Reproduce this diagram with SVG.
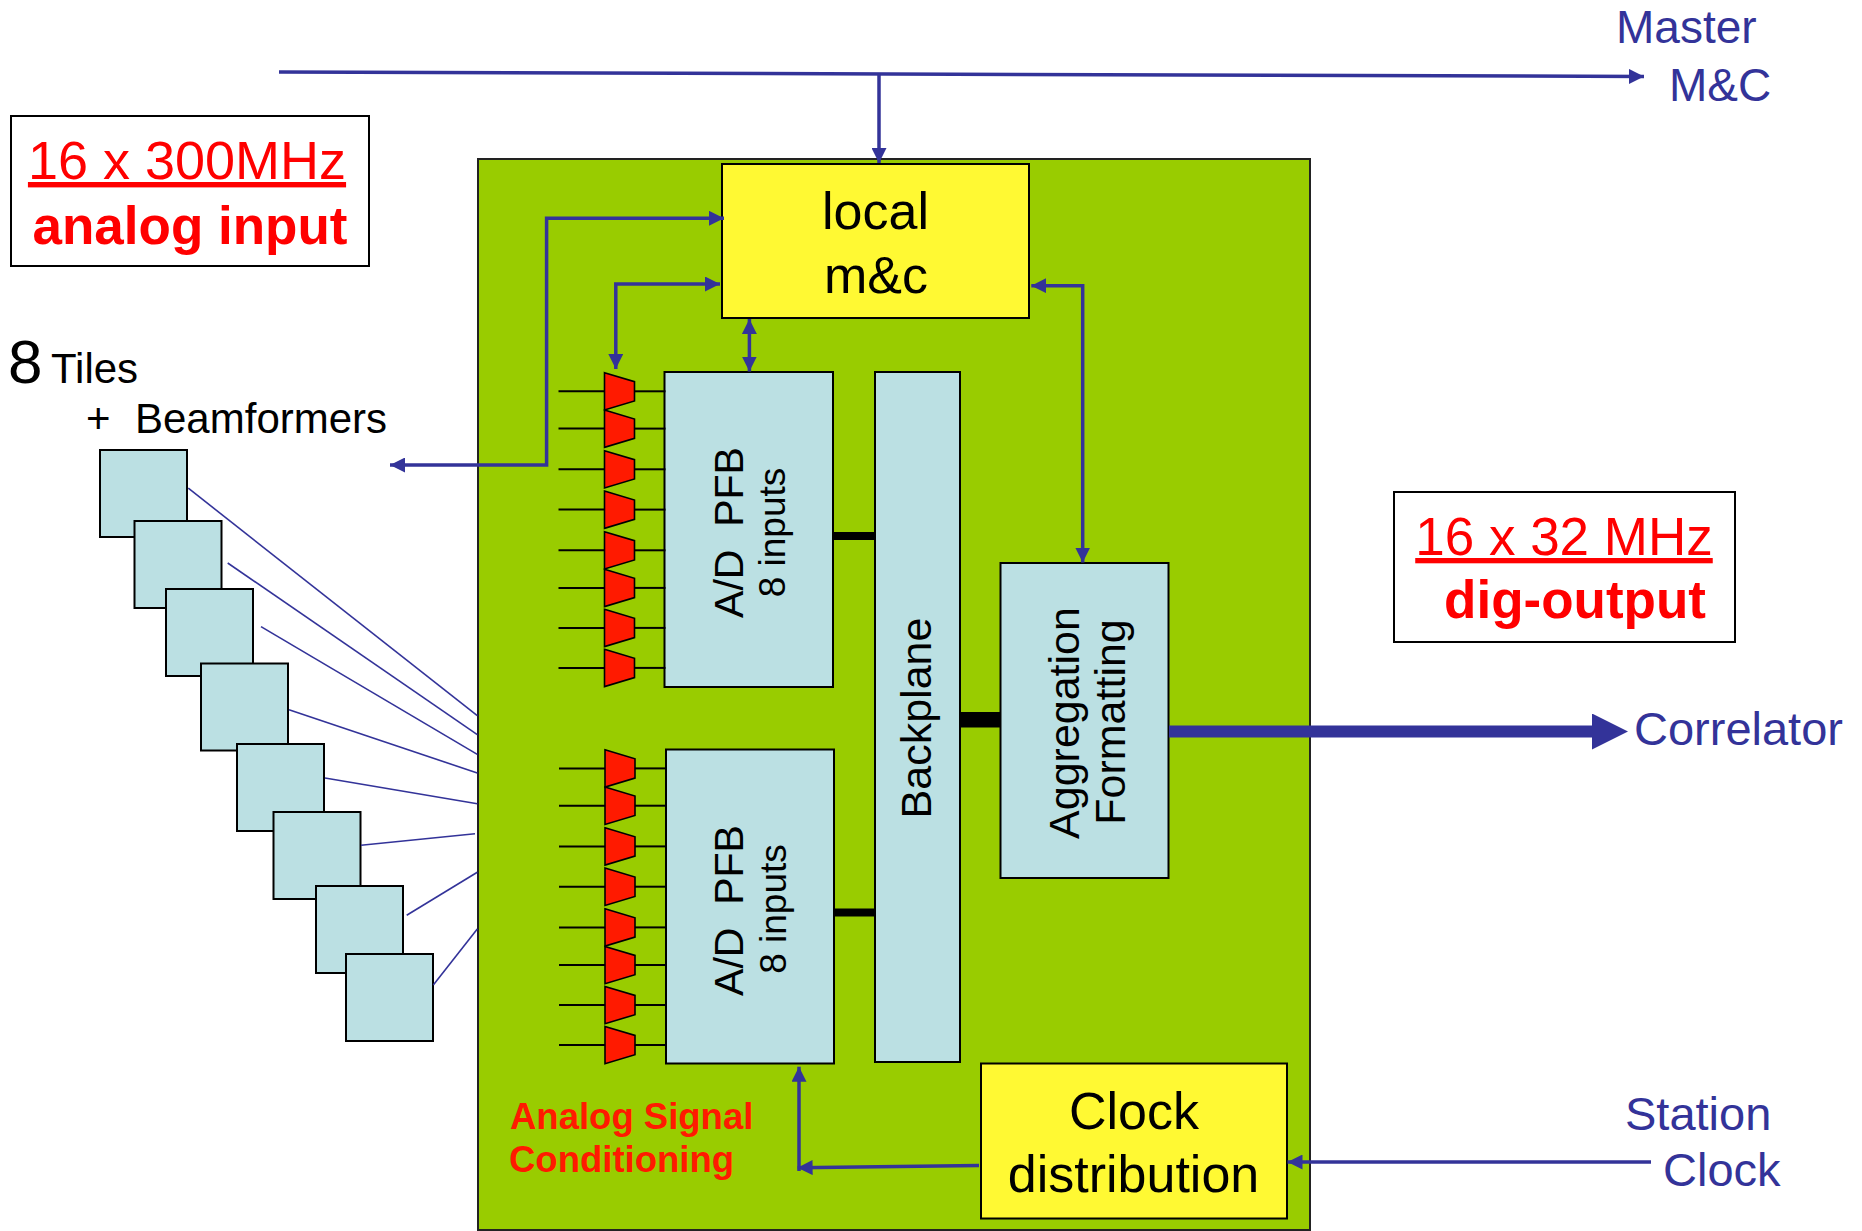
<svg xmlns="http://www.w3.org/2000/svg" xmlns:xlink="http://www.w3.org/1999/xlink" width="1862" height="1231" viewBox="0 0 1862 1231">
<style>
  text { font-family: "Liberation Sans", Arial, sans-serif; }
  .blk { fill: #000000; }
  .blue { fill: #333399; }
  .red { fill: #FF0000; }
  .conn { stroke: #333399; stroke-width: 3.5; fill: none; }
  .tline { stroke: #333399; stroke-width: 1.6; fill: none; }
  .lb { fill: #BBE0E3; stroke: #000000; stroke-width: 2; }
  .yel { fill: #FFF933; stroke: #000000; stroke-width: 2; }
  .frame { fill: #FFFFFF; stroke: #000000; stroke-width: 2; }
  .bus { fill: #000000; }
  .amp { fill: #FF1A00; stroke: #000000; stroke-width: 1.6; stroke-linejoin: miter; }
  .wire { stroke: #000000; stroke-width: 2; }
</style>
<defs>
  <marker id="ah" markerUnits="userSpaceOnUse" viewBox="0 0 15 15" refX="15" refY="7.5" markerWidth="15" markerHeight="15" orient="auto-start-reverse">
    <path d="M0,0 L15,7.5 L0,15 Z" fill="#333399"/>
  </marker>
  <marker id="bigah" markerUnits="userSpaceOnUse" viewBox="0 0 36 36" refX="2" refY="18" markerWidth="36" markerHeight="36" orient="auto">
    <path d="M0,0 L36,18 L0,36 Z" fill="#333399"/>
  </marker>
  <g id="ampUnit">
    <line class="wire" x1="-46" y1="18.6" x2="0" y2="18.6"/>
    <line class="wire" x1="30" y1="18.6" x2="61" y2="18.6"/>
    <path class="amp" d="M0,0 L30,9 L30,28.3 L0,37.3 Z"/>
  </g>
</defs>

<rect width="1862" height="1231" fill="#FFFFFF"/>

<!-- board -->
<g id="board">
  <rect x="478" y="159" width="832" height="1071" fill="#99CC00" stroke="#222222" stroke-width="2"/>
</g>

<!-- label boxes -->
<g id="analog-input-label">
  <rect class="frame" x="11" y="116" width="358" height="150"/>
  <text class="red" x="187" y="179" font-size="54" text-anchor="middle" text-decoration="underline">16 x 300MHz</text>
  <text class="red" x="190" y="244" font-size="53" font-weight="bold" text-anchor="middle">analog input</text>
</g>
<g id="dig-output-label">
  <rect class="frame" x="1394" y="492" width="341" height="150"/>
  <text class="red" x="1564" y="555" font-size="53" text-anchor="middle" text-decoration="underline">16 x 32 MHz</text>
  <text class="red" x="1575" y="618" font-size="53" font-weight="bold" text-anchor="middle">dig-output</text>
</g>
<g id="tiles-label">
  <text class="blk" x="8" y="383" font-size="62">8</text>
  <text class="blk" x="51" y="383" font-size="42">Tiles</text>
  <text class="blk" x="86" y="433" font-size="42">+</text>
  <text class="blk" x="135" y="433" font-size="42">Beamformers</text>
</g>
<g id="master-label">
  <text class="blue" x="1616" y="43" font-size="46">Master</text>
  <text class="blue" x="1669" y="101" font-size="46">M&amp;C</text>
</g>
<g id="correlator-label">
  <text class="blue" x="1634" y="745" font-size="47">Correlator</text>
</g>
<g id="station-clock-label">
  <text class="blue" x="1625" y="1130" font-size="47">Station</text>
  <text class="blue" x="1663" y="1186" font-size="47">Clock</text>
</g>
<g id="asc-label">
  <text x="510" y="1129" font-size="36.5" font-weight="bold" fill="#FF1A00">Analog Signal</text>
  <text x="509" y="1172" font-size="36.5" font-weight="bold" fill="#FF1A00">Conditioning</text>
</g>

<!-- tiles -->
<g id="tiles">
  <rect class="lb" x="100" y="450" width="87" height="87"/>
  <rect class="lb" x="134.5" y="521" width="87" height="87"/>
  <rect class="lb" x="166" y="589" width="87" height="87"/>
  <rect class="lb" x="201" y="663.5" width="87" height="87"/>
  <rect class="lb" x="237" y="744" width="87" height="87"/>
  <rect class="lb" x="273.5" y="812" width="87" height="87"/>
  <rect class="lb" x="316" y="886" width="87" height="87"/>
  <rect class="lb" x="346" y="954" width="87" height="87"/>
</g>

<!-- nodes -->
<g id="local-mc">
  <rect class="yel" x="722" y="164" width="307" height="154"/>
  <text class="blk" x="875.5" y="229" font-size="52" text-anchor="middle">local</text>
  <text class="blk" x="876" y="293" font-size="52" text-anchor="middle">m&amp;c</text>
</g>
<g id="adc1">
  <rect class="lb" x="664.5" y="372" width="168.5" height="315"/>
  <text class="blk" transform="translate(743,532.5) rotate(-90)" font-size="41" text-anchor="middle">A/D&#160; PFB</text>
  <text class="blk" transform="translate(785,532.5) rotate(-90)" font-size="37" text-anchor="middle">8 inputs</text>
</g>
<g id="adc2">
  <rect class="lb" x="666" y="749.5" width="168" height="314"/>
  <text class="blk" transform="translate(743,910.5) rotate(-90)" font-size="41" text-anchor="middle">A/D&#160; PFB</text>
  <text class="blk" transform="translate(786,909) rotate(-90)" font-size="37" text-anchor="middle">8 inputs</text>
</g>
<g id="amps1">
  <use xlink:href="#ampUnit" transform="translate(604.5,372.7)"/>
  <use xlink:href="#ampUnit" transform="translate(604.5,410)"/>
  <use xlink:href="#ampUnit" transform="translate(604.5,450.7)"/>
  <use xlink:href="#ampUnit" transform="translate(604.5,491)"/>
  <use xlink:href="#ampUnit" transform="translate(604.5,531.7)"/>
  <use xlink:href="#ampUnit" transform="translate(604.5,569.3)"/>
  <use xlink:href="#ampUnit" transform="translate(604.5,609.3)"/>
  <use xlink:href="#ampUnit" transform="translate(604.5,649.3)"/>
</g>
<g id="amps2">
  <use xlink:href="#ampUnit" transform="translate(605,749.8)"/>
  <use xlink:href="#ampUnit" transform="translate(605,787.1)"/>
  <use xlink:href="#ampUnit" transform="translate(605,827.8)"/>
  <use xlink:href="#ampUnit" transform="translate(605,868.1)"/>
  <use xlink:href="#ampUnit" transform="translate(605,908.8)"/>
  <use xlink:href="#ampUnit" transform="translate(605,946.4)"/>
  <use xlink:href="#ampUnit" transform="translate(605,986.4)"/>
  <use xlink:href="#ampUnit" transform="translate(605,1026.4)"/>
</g>
<g id="backplane">
  <rect class="lb" x="875" y="372" width="85" height="690"/>
  <text class="blk" transform="translate(931,718) rotate(-90)" font-size="43" text-anchor="middle">Backplane</text>
</g>
<g id="aggregation">
  <rect class="lb" x="1000.5" y="563" width="168" height="315"/>
  <text class="blk" transform="translate(1079,723) rotate(-90)" font-size="43" text-anchor="middle">Aggregation</text>
  <text class="blk" transform="translate(1125,722) rotate(-90)" font-size="43" text-anchor="middle">Formatting</text>
</g>
<g id="clock-dist">
  <rect class="yel" x="981" y="1063.5" width="306" height="155"/>
  <text class="blk" x="1134" y="1129" font-size="52" text-anchor="middle">Clock</text>
  <text class="blk" x="1133.5" y="1192" font-size="52" text-anchor="middle">distribution</text>
</g>

<!-- connectors -->
<g id="connectors">
  <rect class="bus" x="833" y="532" width="42" height="8"/>
  <rect class="bus" x="834" y="908.5" width="41" height="8"/>
  <rect class="bus" x="960" y="712" width="40.5" height="15.5"/>

  <path class="conn" d="M279,72 L1644,76.5" marker-end="url(#ah)"/>
  <path class="conn" d="M879,73.5 L879,163" marker-end="url(#ah)"/>
  <path class="conn" d="M724,218.3 L546.6,218.3 L546.6,465 L390,465" marker-start="url(#ah)" marker-end="url(#ah)"/>
  <path class="conn" d="M720,284 L615.8,284 L615.8,369" marker-start="url(#ah)" marker-end="url(#ah)"/>
  <path class="conn" d="M749.4,319 L749.4,371.5" marker-start="url(#ah)" marker-end="url(#ah)"/>
  <path class="conn" d="M1031.3,285.7 L1082.7,285.7 L1082.7,562.5" marker-start="url(#ah)" marker-end="url(#ah)"/>
  <path class="conn" d="M979,1165.5 L797.6,1167.8" marker-end="url(#ah)"/>
  <path class="conn" d="M799,1171 L799,1066.7" marker-end="url(#ah)"/>
  <path class="conn" d="M1651,1162 L1287.5,1162" marker-end="url(#ah)"/>
  <path d="M1169,731.5 L1594,731.5" stroke="#333399" stroke-width="12" fill="none" marker-end="url(#bigah)"/>

  <line class="tline" x1="188.3" y1="488.2" x2="477.3" y2="715.6"/>
  <line class="tline" x1="227.7" y1="563" x2="477.3" y2="734.6"/>
  <line class="tline" x1="261" y1="626.6" x2="477.3" y2="754.4"/>
  <line class="tline" x1="289" y1="709.7" x2="477.3" y2="773"/>
  <line class="tline" x1="325" y1="778" x2="477.3" y2="803.8"/>
  <line class="tline" x1="361" y1="845.3" x2="475" y2="833.8"/>
  <line class="tline" x1="406.7" y1="915.3" x2="477.3" y2="872.2"/>
  <line class="tline" x1="433.3" y1="985" x2="477.3" y2="929"/>
</g>
</svg>
